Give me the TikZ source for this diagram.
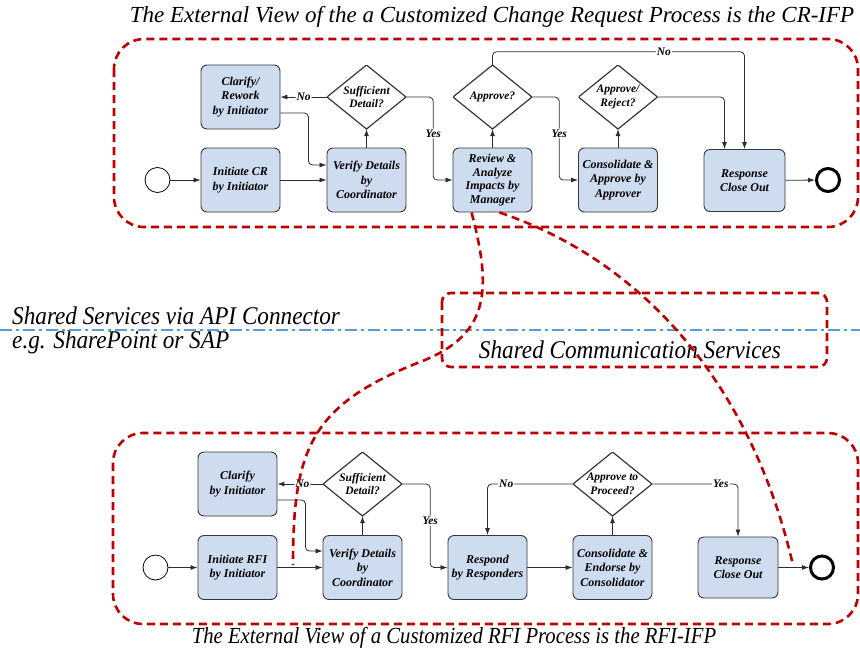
\documentclass[tikz,border=0pt]{standalone}
\usepackage{fontspec}
\setmainfont{Liberation Serif}
\newfontfamily\tnr{Liberation Serif}
\usetikzlibrary{arrows.meta,calc}
\definecolor{boxfill}{RGB}{206,220,240}
\definecolor{boxline}{RGB}{55,55,55}
\definecolor{flowline}{RGB}{45,45,45}
\definecolor{ifpred}{RGB}{192,0,0}
\definecolor{apiblue}{RGB}{91,155,213}
% horizontally condensed caption text
\newcommand{\narrow}[2]{\scalebox{#1}[1]{#2}}
\begin{document}
\begin{tikzpicture}[x=1pt,y=-1pt,
  task/.style={draw=boxline, fill=boxfill, rounded corners=6pt, line width=0.9pt,
    minimum width=79pt, minimum height=64pt, inner sep=1pt, align=center,
    font=\tnr\fontsize{12}{14.5}\selectfont\bfseries\itshape},
  decision/.style={rectangle, minimum width=79pt, minimum height=64pt, inner sep=0pt,
    align=center, font=\tnr\fontsize{11.5}{13.5}\selectfont\bfseries\itshape,
    path picture={\draw[boxline, line width=1.2pt]
      (path picture bounding box.north) -- (path picture bounding box.east) --
      (path picture bounding box.south) -- (path picture bounding box.west) -- cycle;}},
  startev/.style={circle, draw=black, line width=0.8pt, minimum size=25pt, inner sep=0pt},
  endev/.style={circle, draw=black, line width=3pt, minimum size=23pt, inner sep=0pt},
  flow/.style={draw=flowline, line width=0.8pt, rounded corners=4pt, -{Latex[length=7pt,width=5pt]}},
  lbl/.style={fill=white, inner sep=1pt, font=\tnr\fontsize{11.5}{12}\selectfont\bfseries\itshape},
  ifp/.style={draw=ifpred, line width=2.6pt, dash pattern=on 8pt off 5pt, rounded corners=30pt},
  link/.style={draw=ifpred, line width=2.6pt, dash pattern=on 8pt off 5pt},
  title/.style={font=\tnr\fontsize{23}{26}\selectfont\itshape, inner sep=0pt},
  side/.style={font=\tnr\fontsize{25.5}{28}\selectfont\itshape, inner sep=0pt}
]
\useasboundingbox (0,0) rectangle (860,651);

% ---------- CR process ----------
\node[title] (crtitle) at (492,17) {The External View of the a Customized Change Request Process is the CR-IFP};
\draw[ifp] (114,39) rectangle (858,227);

\node[startev] (s1) at (157.5,180) {};
\node[task] (init1) at (240.5,180) {Initiate CR\\by Initiator};
\node[task] (clar1) at (240.5,97) {Clarify/\\Rework\\by Initiator};
\node[task] (ver1) at (366.5,180) {Verify Details\\by\\Coordinator};
\node[decision] (d1) at (366.5,97) {Sufficient\\Detail?};
\node[task, font=\tnr\fontsize{12}{13.5}\selectfont\bfseries\itshape] (rev1) at (492.5,180) {Review \&\\Analyze\\Impacts by\\Manager};
\node[decision] (d2) at (492.5,97) {Approve?};
\node[task] (con1) at (618,180) {Consolidate \&\\Approve by\\Approver};
\node[decision] (d3) at (618,97) {Approve/\\Reject?};
\node[task, minimum width=81pt, minimum height=62pt] (resp1) at (744.5,180.5) {Response\\Close Out};
\node[endev] (e1) at (828,180) {};

\draw[flow] (s1) -- (init1);
\draw[flow] (init1) -- (ver1);
\draw[flow] (ver1) -- (d1);
\draw[flow] (d1.west) -- node[lbl] {No} (clar1.east);
\draw[flow] ([yshift=-16pt]clar1.east) -- ++(28,0) |- ([yshift=15pt]ver1.west);
\draw[flow] (d1.east) -- ++(27,0) |- node[lbl, pos=0.22] {Yes} (rev1.west);
\draw[flow] (rev1) -- (d2);
\draw[flow] (d2.north) -- ++(0,-13) -| node[lbl, pos=0.34] {No} (resp1.north);
\draw[flow] (d2.east) -- ++(27,0) |- node[lbl, pos=0.22] {Yes} (con1.west);
\draw[flow] (con1) -- (d3);
\draw[flow] (d3.east) -| ([xshift=-20pt]resp1.north);
\draw[flow] (resp1) -- (e1);

% ---------- shared services ----------
\node[side, anchor=west] (api1) at (12,316) {\narrow{0.91}{Shared Services via API Connector}};
\node[side, anchor=west] (api2) at (12,342) {\narrow{0.91}{e.g. SharePoint or SAP}};
\draw[apiblue, line width=2pt, dash pattern=on 12pt off 4pt on 3pt off 4pt] (0,330) -- (860,330);
\draw[link, rounded corners=9pt] (442,293) rectangle (827,367);
\node[side] (comm) at (630,350) {\narrow{0.91}{Shared Communication Services}};

% ---------- RFI process ----------
\draw[ifp] (113,433) rectangle (858,624);
\node[title] (rfititle) at (454,638) {\narrow{0.9}{The External View of a Customized RFI Process is the RFI-IFP}};

\node[startev] (s2) at (155.5,567.5) {};
\node[task] (init2) at (237.5,567.5) {Initiate RFI\\by Initiator};
\node[task] (clar2) at (237.5,484) {Clarify\\by Initiator};
\node[task] (ver2) at (362.5,567.5) {Verify Details\\by\\Coordinator};
\node[decision] (d4) at (362.5,484) {Sufficient\\Detail?};
\node[task] (rr) at (487.5,567.5) {Respond\\by Responders};
\node[task] (con2) at (612.5,567.5) {Consolidate \&\\Endorse by\\Consolidator};
\node[decision] (d5) at (612.5,484) {Approve to\\Proceed?};
\node[task, minimum width=80pt, minimum height=61pt] (resp2) at (738,567.5) {Response\\Close Out};
\node[endev] (e2) at (822,567.5) {};

\draw[flow] (s2) -- (init2);
\draw[flow] (init2) -- (ver2);
\draw[flow] (ver2) -- (d4);
\draw[flow] (d4.west) -- node[lbl, pos=0.45] {No} (clar2.east);
\draw[flow] ([yshift=-16pt]clar2.east) -- ++(28,0) |- ([yshift=16.5pt]ver2.west);
\draw[flow] (d4.east) -- ++(28,0) |- node[lbl, pos=0.22] {Yes} (rr.west);
\draw[flow] (rr) -- (con2);
\draw[flow] (con2) -- (d5);
\draw[flow] (d5.west) -| node[lbl, pos=0.39] {No} (rr.north);
\draw[flow] (d5.east) -| node[lbl, pos=0.40] {Yes} (resp2.north);
\draw[flow] (resp2) -- (e2);

% ---------- links through the shared services ----------
\coordinate (l1a) at ([xshift=19pt]rev1.south west);
\coordinate (l1b) at (293,565);
\coordinate (l2a) at ([xshift=7pt]rev1.south);
\coordinate (l2b) at (793,565);
\draw[link] (l1a) .. controls (492,290) and (490,335) .. (420,362)
  .. controls (310,405) and (293,450) .. (l1b);
\draw[link] (l2a) .. controls (640,260) and (750,380) .. (l2b);
\end{tikzpicture}
\end{document}
